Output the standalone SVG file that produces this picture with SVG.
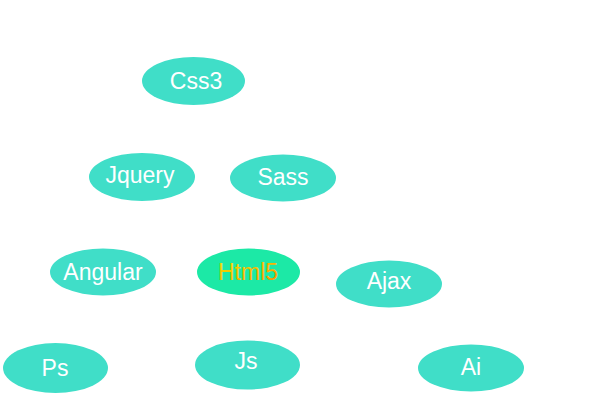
<svg xmlns="http://www.w3.org/2000/svg" width="600" height="400" viewBox="0 0 600 400">
<defs>
<style>
.n{fill:#40DEC8;}
.h{fill:#1CE9A6;}
.t{font-family:"Liberation Sans",Arial,sans-serif;font-size:23px;fill:#ffffff;text-anchor:middle;dominant-baseline:central;}
.ht{fill:url(#g);}
</style>
<linearGradient id="g" x1="0" y1="0" x2="1" y2="1">
<stop offset="0" stop-color="#F2E800"/>
<stop offset="1" stop-color="#FF8A00"/>
</linearGradient>
</defs>
<rect width="600" height="400" fill="#ffffff"/>
<g id="css3"><ellipse class="n" cx="193.5" cy="81" rx="51.5" ry="24"/><text class="t" x="196" y="81">Css3</text></g>
<g id="jquery"><ellipse class="n" cx="142" cy="177" rx="53" ry="24"/><text class="t" x="140" y="175">Jquery</text></g>
<g id="sass"><ellipse class="n" cx="283" cy="178" rx="53" ry="23.5"/><text class="t" x="283" y="177">Sass</text></g>
<g id="angular"><ellipse class="n" cx="103" cy="272" rx="53" ry="23.5"/><text class="t" x="103" y="272">Angular</text></g>
<g id="html5"><ellipse class="h" cx="248.5" cy="272" rx="51.5" ry="23.5"/><text class="t ht" x="248" y="272">Html5</text></g>
<g id="ajax"><ellipse class="n" cx="389" cy="284" rx="53" ry="23.5"/><text class="t" x="389" y="281">Ajax</text></g>
<g id="ps"><ellipse class="n" cx="55.5" cy="368" rx="52.5" ry="25"/><text class="t" x="55" y="368">Ps</text></g>
<g id="js"><ellipse class="n" cx="247.5" cy="365" rx="52.5" ry="24.5"/><text class="t" x="246" y="361">Js</text></g>
<g id="ai"><ellipse class="n" cx="471" cy="368" rx="53" ry="23.5"/><text class="t" x="471" y="367">Ai</text></g>
<g id="connectors"></g>
</svg>
